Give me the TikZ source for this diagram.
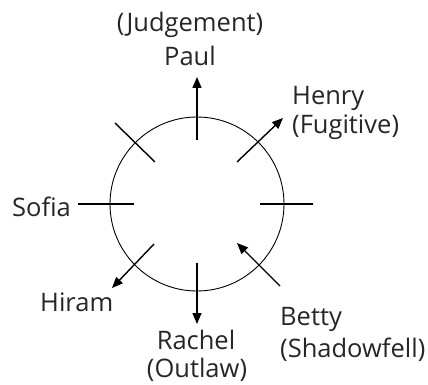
\documentclass[tikz,border=0pt]{standalone}
\usepackage{fontspec}
\setmainfont{Open Sans}
\usetikzlibrary{arrows.meta}
\begin{document}
\begin{tikzpicture}[x=1pt,y=-1pt,
  lbl/.style={inner sep=0pt,text=black!85,font=\fontsize{25.5}{30}\selectfont},
  spoke/.style={line width=1.4pt,black},
  arr/.style={spoke,-{Triangle[length=11pt,width=9pt]}}]
\useasboundingbox (0,0) rectangle (428,385);
\node[draw,circle,line width=0.9pt,minimum size=174pt,inner sep=0pt] (c) at (197,204) {};
% coordinates
\coordinate (nI) at (197,140); \coordinate (nO) at (197,77);
\coordinate (sI) at (197,263); \coordinate (sO) at (197,324);
\coordinate (eI) at (260,204); \coordinate (eO) at (313,204);
\coordinate (wI) at (134,204); \coordinate (wO) at (78,204);
\coordinate (nwI) at (155,162); \coordinate (nwO) at (115,123);
\coordinate (neI) at (237,162); \coordinate (neO) at (283,118);
\coordinate (swI) at (154,244); \coordinate (swO) at (112,288);
\coordinate (seI) at (237,243); \coordinate (seO) at (280,286);
\draw[arr] (nI) -- (nO);
\draw[arr] (sI) -- (sO);
\draw[spoke] (eI) -- (eO);
\draw[spoke] (wI) -- (wO);
\draw[spoke] (nwI) -- (nwO);
\draw[arr] (neI) -- (neO);
\draw[arr] (swI) -- (swO);
\draw[arr] (seO) -- (seI);
% labels
\node[lbl,anchor=base] (judg) at (190,32) {(Judgement)};
\node[lbl,anchor=base] (paul) at (190,66) {Paul};
\node[lbl,anchor=base west] (henry) at (292,105) {Henry};
\node[lbl,anchor=base west] (fug) at (292,133) {(Fugitive)};
\node[lbl,anchor=base west] (sofia) at (12,216) {Sofia};
\node[lbl,anchor=base west] (hiram) at (40,311) {Hiram};
\node[lbl,anchor=base] (rachel) at (196,349) {Rachel};
\node[lbl,anchor=base] (outlaw) at (197,377) {(Outlaw)};
\node[lbl,anchor=base west] (betty) at (280,325) {Betty};
\node[lbl,anchor=base west] (shadow) at (280,357) {(Shadowfell)};
\end{tikzpicture}
\end{document}
